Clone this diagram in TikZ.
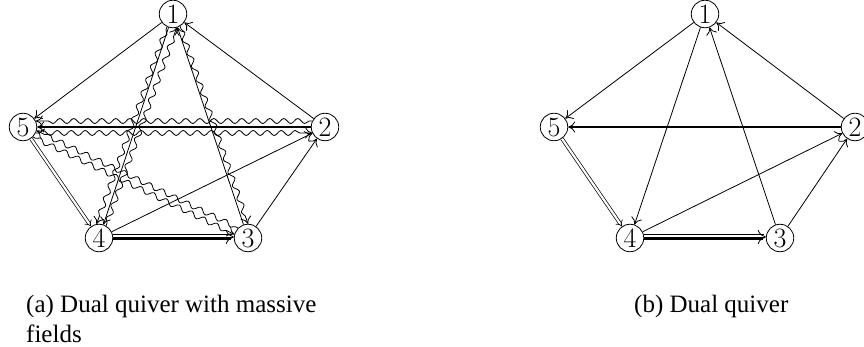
\documentclass[tikz,border=0pt]{standalone}
\usepackage{fontspec}
\newfontfamily\capfont{Liberation Serif}
\usetikzlibrary{arrows.meta,decorations.pathmorphing,calc}
\begin{document}
\begin{tikzpicture}[x=1pt,y=-1pt,
  vtx/.style={circle,draw,line width=0.8pt,inner sep=0pt,minimum size=27.5pt,font=\fontsize{28}{28}\selectfont},
  tip/.style={-{To[length=7pt,width=11pt,line width=0.8pt]}},
  ar/.style={tip,line width=0.8pt},
  thk/.style={tip,line width=2.3pt},
  dbl/.style={double,double distance=2.2pt,line width=0.7pt,-{Implies[length=5pt,width=9pt]}},
  wv/.style={ar,decorate,decoration={snake,amplitude=2.5pt,segment length=14pt,pre length=3pt,post length=7pt}},
  captxt/.style={anchor=base west,inner sep=0pt,font=\capfont\fontsize{25}{30}\selectfont}
]
\useasboundingbox (0,0) rectangle (864,347);
% ---------- (a) ----------
\node[vtx] (a1) at (173,14) {1};
\node[vtx] (a2) at (325,127) {2};
\node[vtx] (a3) at (248,238) {3};
\node[vtx] (a4) at (99,238) {4};
\node[vtx] (a5) at (23,127) {5};
\draw[ar] (a1) -- (a5);
\draw[ar] (a2) -- (a1);
\draw[ar] (a3) -- (a1);
\draw[ar] (a1) -- (a4);
\draw[ar] (a4) -- (a2);
\draw[ar] (a3) -- (a2);
\draw[thk] (a2) -- (a5);
\draw[dbl] (a5) -- (a4);
\draw[line width=0.8pt] ($(a4.east)+(0,-3.5)$) -- ($(a3.west)+(-2,-3.5)$);
\draw[line width=2.6pt] ($(a4.east)+(0,1.2)$) -- ($(a3.west)+(-3,1.2)$);
\draw[-{To[length=8pt,width=14pt,line width=0.8pt]},line width=0.8pt] ($(a4.east)+(0,-1)$) -- ($(a3.west)+(0,-1)$);
% wavy
\draw[wv] (a2.155) -- (a5.25);
\draw[wv] (a5.-25) -- (a2.205);
\draw[wv] (a1.245) -- (a4.100);
\draw[wv] (a4.60) -- (a1.285);
\draw[wv] (a1.300) -- (a3.90);
\draw[wv] (a5.-45) -- (a3.165);
\draw[wv] (a3.135) -- (a5.-15);
% ---------- (b) ----------
\node[vtx] (b1) at (705,14) {1};
\node[vtx] (b2) at (855,127) {2};
\node[vtx] (b3) at (780,238) {3};
\node[vtx] (b4) at (630,238) {4};
\node[vtx] (b5) at (554,127) {5};
\draw[ar] (b1) -- (b5);
\draw[ar] (b2) -- (b1);
\draw[ar] (b3) -- (b1);
\draw[ar] (b1) -- (b4);
\draw[ar] (b4) -- (b2);
\draw[ar] (b3) -- (b2);
\draw[thk] (b2) -- (b5);
\draw[dbl] (b5) -- (b4);
\draw[line width=0.8pt] ($(b4.east)+(0,-3.5)$) -- ($(b3.west)+(-2,-3.5)$);
\draw[line width=2.6pt] ($(b4.east)+(0,1.2)$) -- ($(b3.west)+(-3,1.2)$);
\draw[-{To[length=8pt,width=14pt,line width=0.8pt]},line width=0.8pt] ($(b4.east)+(0,-1)$) -- ($(b3.west)+(0,-1)$);
% captions
\node[captxt] (ca) at (26,312) {(a) Dual quiver with massive};
\node[captxt] (cf) at (26,342) {fields};
\node[captxt] (cb) at (634,312) {(b) Dual quiver};
\end{tikzpicture}
\end{document}
